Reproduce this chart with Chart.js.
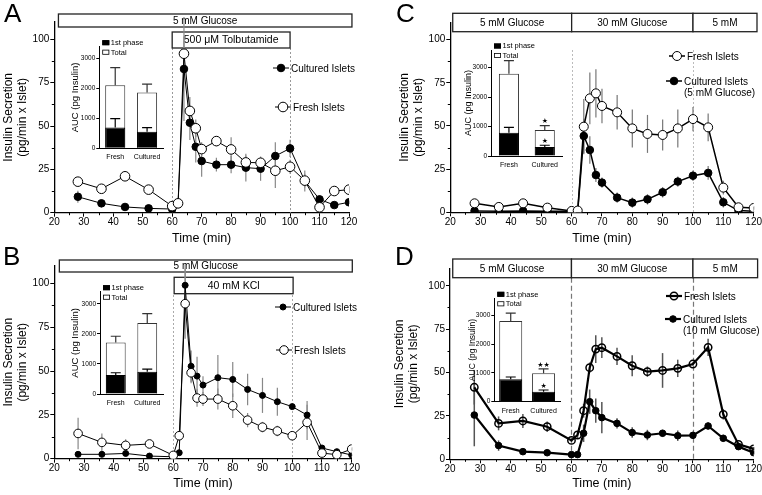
<!DOCTYPE html>
<html>
<head>
<meta charset="utf-8">
<script src="https://cdn.jsdelivr.net/npm/chart.js@4.4.0/dist/chart.umd.min.js"></script>
<style>
  html, body { margin: 0; padding: 0; background: #fff; }
  #wrap { position: relative; width: 762px; height: 495px; overflow: hidden;
          font-family: "Liberation Sans", Arial, sans-serif; }
  canvas { position: absolute; }
  .tag { position: absolute; font-size: 26px; line-height: 1; color: #000; }
</style>
</head>
<body>
<div id="wrap">
  <canvas id="mainA" style="left:0;top:0"></canvas>
  <canvas id="mainB" style="left:0;top:245px"></canvas>
  <canvas id="mainC" style="left:381px;top:0"></canvas>
  <canvas id="mainD" style="left:381px;top:245px"></canvas>
  <canvas id="insetA" style="left:60px;top:36px"></canvas>
  <canvas id="insetB" style="left:60px;top:281px"></canvas>
  <canvas id="insetC" style="left:452px;top:40px"></canvas>
  <canvas id="insetD" style="left:455px;top:288px"></canvas>
  <div class="tag" style="left:4px;top:0">A</div>
  <div class="tag" style="left:3px;top:243px">B</div>
  <div class="tag" style="left:396px;top:0">C</div>
  <div class="tag" style="left:395px;top:243px">D</div>
</div>
<script>
// 共通の時間軸（min）
const times = [28, 36, 44, 52, 60, 62, 64, 66, 68, 70, 75, 80, 85, 90, 95, 100, 105, 110, 115, 120];
const seriesLabels = ["Fresh Islets", "Cultured Islets"];

// A: トルブタミド刺激
const aFresh       = [17.9, 13.8, 21, 13.3, 3.8, 5.4, 91.7, 58.7, 48.7, 36.7, 41.3, 36.5, 29, 28.8, 24.2, 26.5, 18.5, 3.1, 12.5, 13.3];
const aFreshErr    = [2, 2, 2, 2, 1, 1, 10, 8, 5, 4, 3, 7, 4, 3, 10, 4, 4, 2, 2, 2];
const aCultured    = [9.2, 5.4, 3.3, 2.5, 2.1, 5, 82.9, 51.9, 38, 29.8, 27.7, 27.7, 26, 25.4, 32.7, 37.1, 18.3, 7.7, 4.4, 6];
const aCulturedErr = [3.5, 1, 1, 0.5, 0.5, 1, 30, 10, 9, 9, 4, 5, 8, 7, 8, 5, 6, 2, 1, 1];

// B: KCl 刺激
const bFresh       = [14.4, 9.3, 7.6, 8.4, 1.9, 13.1, 88.4, 49, 34.6, 34, 34, 30.2, 22, 18, 15.8, 13.1, 20.7, 3.2, 2.3, 5.5];
const bFreshErr    = [9, 5, 3.5, 2, 1, 2, 20, 6, 5, 4, 6, 7, 4, 3, 3, 1, 10, 1, 1, 1];
const bCultured    = [2.5, 2.5, 3, 1.5, 1.1, 3.4, 98.9, 52.7, 47.1, 42, 46.2, 45.2, 39.5, 36.1, 32.5, 29.7, 24.9, 6.1, 4, 2.1];
const bCulturedErr = [0.5, 0.5, 0.5, 0.5, 0.3, 0.5, 12, 9, 11, 5, 13, 10, 9, 10, 8, 1, 8, 1.5, 1, 0.5];

// C: 30 mM グルコース（培養 5 mM）
const cFresh       = [5.2, 3.1, 5.2, 2.7, 0.8, 1, 49.6, 66, 68.9, 61.6, 57.9, 48.6, 45.4, 44.8, 48.6, 54, 49.2, 14.3, 2.9, 2.5];
const cFreshErr    = [0.5, 0.5, 0.5, 0.5, 0.2, 0.2, 16, 15, 14, 10, 10, 11, 11, 9, 11, 7, 8, 4, 1, 1];
const cCultured    = [0.8, 0.6, 0.8, 0.6, 0.6, 0.6, 44.2, 36.1, 21.6, 17.2, 8.5, 5.6, 7.5, 11.6, 17.8, 21.2, 22.8, 5.8, 1, 0.6];
const cCulturedErr = [0.2, 0.2, 0.2, 0.2, 0.2, 0.2, 10, 8, 4, 3, 3, 3, 3, 3, 3, 3, 4, 3, 0.5, 0.2];

// D: 30 mM グルコース（培養 10 mM）
const dFresh       = [41.5, 20.7, 22.1, 18.8, 10.9, 14, 28, 52.8, 63.5, 64.3, 59.3, 53.9, 50.5, 51.2, 52.4, 54.9, 64.5, 25.9, 8.6, 6];
const dFreshErr    = [10, 4, 4, 3, 1, 2, 4, 3, 8, 6, 5, 6, 3, 10, 5, 1, 5, 3, 1, 1];
const dCultured    = [25.5, 7.9, 4.4, 3.8, 2.7, 2.7, 15, 33.2, 28, 24, 20.7, 15.4, 14, 15, 13.6, 13.8, 19.2, 12.1, 7.3, 3.8];
const dCulturedErr = [18, 3, 1, 1, 0.5, 0.5, 5, 7, 7, 9, 3, 3, 3, 2, 3, 1, 2, 2, 1, 1];

// 挿入図: AUC（pg Insulin）
const aucGroups = ["Fresh", "Cultured"];
const aucTicks = [0, 1000, 2000, 3000];
const aTotal = [2110, 1865], aTotalErr = [590, 280], aFirst = [700, 556], aFirstErr = [290, 133];
const bTotal = [1710, 2360], bTotalErr = [210, 310], bFirst = [630, 740], bFirstErr = [76, 88];
const cTotal = [2790, 880],  cTotalErr = [450, 155], cFirst = [790, 305], cFirstErr = [185, 60];
const dTotal = [2814, 988],  dTotalErr = [267, 152], dFirst = [779, 349], dFirstErr = [81, 58];
const cTotalStars = ["", "★"],  cFirstStars = ["", "★"];
const dTotalStars = ["", "★★"], dFirstStars = ["", "★"];

const FONT = '"Liberation Sans", Arial, sans-serif';
Chart.defaults.font.family = FONT;
Chart.defaults.color = "#000";
Chart.defaults.animation = false;

// 本図の飾り（条件ボックス・点線・誤差線・凡例・副目盛）
function decoPlugin(p) {
  return {
    id: "deco",
    beforeDatasetsDraw(chart) {
      const { ctx, chartArea, scales: { x, y } } = chart;
      ctx.save();
      ctx.strokeStyle = p.dash.color;
      ctx.lineWidth = p.dash.width;
      ctx.setLineDash(p.dash.pattern);
      p.dash.at.forEach(t => {
        const px = Math.round(x.getPixelForValue(t)) + 0.5;
        ctx.beginPath();
        ctx.moveTo(px, p.dash.from);
        ctx.lineTo(px, chartArea.bottom);
        ctx.stroke();
      });
      ctx.setLineDash([]);

      p.boxes.forEach(b => {
        const x0 = x.getPixelForValue(b.from), x1 = x.getPixelForValue(b.to);
        ctx.fillStyle = "#fff";
        ctx.fillRect(x0, b.top, x1 - x0, b.bottom - b.top);
        ctx.strokeStyle = "#222";
        ctx.lineWidth = 1.3;
        ctx.strokeRect(x0, b.top, x1 - x0, b.bottom - b.top);
        ctx.fillStyle = "#000";
        ctx.font = `${b.size}px ${FONT}`;
        ctx.textAlign = "center";
        ctx.textBaseline = "middle";
        ctx.fillText(b.text, (x0 + x1) / 2, (b.top + b.bottom) / 2 + 0.5);
      });

      // 誤差線（マーカーの下）
      ctx.strokeStyle = p.errColor;
      ctx.lineWidth = p.errWidth;
      chart.data.datasets.forEach((ds, i) => {
        const meta = chart.getDatasetMeta(i);
        ds.data.forEach((pt, j) => {
          const e = ds.err[j];
          const px = meta.data[j].x;
          ctx.beginPath();
          ctx.moveTo(px, y.getPixelForValue(pt.y + e));
          ctx.lineTo(px, y.getPixelForValue(Math.max(0, pt.y - e)));
          ctx.stroke();
        });
      });
      ctx.restore();
    },
    afterDraw(chart) {
      const { ctx, chartArea, scales: { x, y } } = chart;
      ctx.save();
      // 副目盛（y: 12.5 ごと, x: 5 ごと）
      ctx.strokeStyle = "#000";
      ctx.lineWidth = 1;
      for (let v = 12.5; v < 110; v += 25) {
        const py = Math.round(y.getPixelForValue(v)) + 0.5;
        ctx.beginPath();
        ctx.moveTo(chartArea.left - 2.5, py);
        ctx.lineTo(chartArea.left, py);
        ctx.stroke();
      }
      for (let t = 25; t < 120; t += 10) {
        const px = Math.round(x.getPixelForValue(t)) + 0.5;
        ctx.beginPath();
        ctx.moveTo(px, chartArea.bottom);
        ctx.lineTo(px, chartArea.bottom + 2.5);
        ctx.stroke();
      }
      // 凡例
      p.legend.forEach(item => {
        const ds = chart.data.datasets[item.ds];
        ctx.strokeStyle = "#000";
        ctx.lineWidth = ds.borderWidth;
        ctx.beginPath();
        ctx.moveTo(item.x - 8, item.y);
        ctx.lineTo(item.x + 8, item.y);
        ctx.stroke();
        ctx.beginPath();
        ctx.arc(item.x, item.y, ds.pointRadius, 0, Math.PI * 2);
        if (ds.pointBackgroundColor !== "transparent") {
          ctx.fillStyle = ds.pointBackgroundColor;
          ctx.fill();
        }
        ctx.lineWidth = ds.pointBorderWidth;
        ctx.stroke();
        ctx.fillStyle = "#000";
        ctx.font = `10px ${FONT}`;
        ctx.textAlign = "left";
        ctx.textBaseline = "middle";
        [ds.label].concat(item.extra || []).forEach((line, k) => {
          ctx.fillText(line, item.x + 10, item.y + 1 + k * 11);
        });
      });
      ctx.restore();
    },
  };
}

function mainChart(id, p) {
  const cv = document.getElementById(id);
  cv.width = 381; cv.height = 246;
  const mk = (label, values, err, style) => ({
    label,
    data: times.map((t, i) => ({ x: t, y: values[i] })),
    err,
    borderColor: "#000",
    borderWidth: p.lineWidth,
    tension: 0,
    pointStyle: "circle",
    pointBorderColor: "#000",
    ...style,
  });
  const datasets = [
    mk(seriesLabels[0], p.fresh, p.freshErr,
       { pointRadius: p.freshR, pointBackgroundColor: p.freshFill, pointBorderWidth: p.freshBW, order: 0 }),
    mk(seriesLabels[1], p.cultured, p.culturedErr,
       { pointRadius: p.cultR, pointBackgroundColor: "#000", pointBorderWidth: 1, order: 1 }),
  ];
  const axisFont = { size: 10 };
  return new Chart(cv, {
    type: "line",
    data: { datasets },
    options: {
      responsive: false,
      animation: false,
      layout: { padding: { left: 0, top: p.area.t, right: 381 - p.area.r, bottom: 0 } },
      plugins: { legend: { display: false }, tooltip: { enabled: false } },
      scales: {
        x: {
          type: "linear", min: 20, max: 120,
          ticks: { stepSize: 10, font: axisFont, padding: 0, maxRotation: 0 },
          grid: { drawOnChartArea: false, tickLength: 4, color: "#000" },
          border: { color: "#000", width: 1.3 },
          title: { display: true, text: "Time (min)", font: { size: 12.5 }, padding: { top: 0, bottom: 0 } },
          afterFit: s => { s.height = 246 - p.area.b; },
        },
        y: {
          min: 0, max: 110,
          ticks: { stepSize: 25, includeBounds: false, font: axisFont, padding: 1 },
          grid: { drawOnChartArea: false, tickLength: 4, color: "#000" },
          border: { color: "#000", width: 1.3 },
          title: { display: true, text: ["Insulin Secretion", "(pg/min x Islet)"],
                   font: { size: 12, lineHeight: 1.15 }, padding: { top: p.yTitlePad, bottom: 0 } },
          afterFit: s => { s.width = p.area.l; },
        },
      },
    },
    plugins: [decoPlugin(p)],
  });
}

// 挿入図の飾り（誤差線・星印・凡例）
const insetDeco = {
  id: "insetDeco",
  afterDatasetsDraw(chart) {
    const { ctx, scales: { y } } = chart;
    ctx.save();
    chart.data.datasets.forEach((ds, i) => {
      const meta = chart.getDatasetMeta(i);
      ds.data.forEach((v, j) => {
        const bar = meta.data[j];
        const top = y.getPixelForValue(v + ds.err[j]);
        ctx.strokeStyle = i === 0 ? "#000" : "#333";
        ctx.lineWidth = 1.2;
        ctx.beginPath();
        ctx.moveTo(bar.x, bar.y);
        ctx.lineTo(bar.x, top);
        ctx.moveTo(bar.x - 5, top);
        ctx.lineTo(bar.x + 5, top);
        ctx.stroke();
        const star = ds.stars ? ds.stars[j] : "";
        if (star) {
          ctx.fillStyle = "#000";
          ctx.font = `7px "DejaVu Sans", sans-serif`;
          ctx.textAlign = "center";
          ctx.textBaseline = "bottom";
          ctx.fillText(star, bar.x, top - 0.5);
        }
      });
    });
    ctx.restore();
  },
  afterDraw(chart) {
    const { ctx, chartArea } = chart;
    ctx.save();
    ctx.font = `7.5px ${FONT}`;
    ctx.textAlign = "left";
    ctx.textBaseline = "middle";
    chart.data.datasets.forEach((ds, i) => {
      const sy = chartArea.top - 6.5 + i * 9.5;
      const sx = chartArea.left + 3;
      ctx.fillStyle = ds.backgroundColor;
      ctx.fillRect(sx, sy, 7, 5);
      ctx.strokeStyle = "#000";
      ctx.lineWidth = 0.8;
      ctx.strokeRect(sx + 0.4, sy + 0.4, 6.2, 4.2);
      ctx.fillStyle = "#000";
      ctx.fillText(ds.label, sx + 8.5, sy + 2.8);
    });
    ctx.restore();
  },
};

function insetChart(id, p) {
  const cv = document.getElementById(id);
  cv.width = p.w; cv.height = p.h;
  const common = { grouped: false, barPercentage: p.barPct, categoryPercentage: 1, borderWidth: 1 };
  return new Chart(cv, {
    type: "bar",
    data: {
      labels: aucGroups,
      datasets: [
        { label: "1st phase", data: p.first, err: p.firstErr, stars: p.firstStars,
          backgroundColor: "#000", borderColor: "#000", order: 0, ...common },
        { label: "Total", data: p.total, err: p.totalErr, stars: p.totalStars,
          backgroundColor: "#fff", borderColor: "#333", order: 1, ...common },
      ],
    },
    options: {
      responsive: false,
      animation: false,
      layout: { padding: { left: 0, top: p.t, right: p.w - p.r, bottom: 0 } },
      plugins: { legend: { display: false }, tooltip: { enabled: false } },
      scales: {
        x: {
          grid: { display: false, drawTicks: false },
          border: { color: "#000", width: 1 },
          ticks: { font: { size: 7 }, padding: 5, maxRotation: 0, minRotation: 0, autoSkip: false },
          afterFit: s => { s.height = p.h - p.b; },
        },
        y: {
          min: 0, max: p.max,
          afterBuildTicks: s => { s.ticks = aucTicks.map(v => ({ value: v })); },
          ticks: { font: { size: 6.5 }, padding: 1, callback: v => String(v) },
          grid: { drawOnChartArea: false, tickLength: 3, color: "#000" },
          border: { color: "#000", width: 1 },
          title: { display: true, text: "AUC (pg Insulin)", font: { size: p.titleSize, lineHeight: 1.15 },
                   padding: { top: p.titlePad, bottom: 0 } },
          afterFit: s => { s.width = p.l; },
        },
      },
    },
    plugins: [insetDeco],
  });
}

mainChart("mainA", {
  fresh: aFresh, freshErr: aFreshErr, cultured: aCultured, culturedErr: aCulturedErr,
  area: { l: 54.3, r: 349, t: 22, b: 212.7 }, yTitlePad: 2,
  lineWidth: 1, freshR: 4.8, freshFill: "#fff", freshBW: 1, cultR: 3.8,
  errColor: "#888", errWidth: 1.2,
  dash: { at: [60, 100], from: 48, color: "#999", width: 1, pattern: [2, 2] },
  boxes: [
    { from: 21.4, to: 121, top: 14, bottom: 27, text: "5 mM Glucose", size: 10 },
    { from: 60, to: 100, top: 32, bottom: 48, text: "500 μM Tolbutamide", size: 10.5 },
  ],
  legend: [{ ds: 1, x: 281, y: 68 }, { ds: 0, x: 283, y: 107 }],
});

mainChart("mainB", {
  fresh: bFresh, freshErr: bFreshErr, cultured: bCultured, culturedErr: bCulturedErr,
  area: { l: 54.3, r: 351.7, t: 20.8, b: 213.7 }, yTitlePad: 2,
  lineWidth: 1, freshR: 4.3, freshFill: "#fff", freshBW: 1, cultR: 3,
  errColor: "#888", errWidth: 1.2,
  dash: { at: [60, 100], from: 50, color: "#aaa", width: 1, pattern: [2, 2] },
  boxes: [
    { from: 21.7, to: 120.2, top: 15, bottom: 27, text: "5 mM Glucose", size: 10 },
    { from: 60.3, to: 100.3, top: 32.3, bottom: 48.7, text: "40 mM KCl", size: 10.5 },
  ],
  legend: [{ ds: 1, x: 283, y: 62 }, { ds: 0, x: 284, y: 105 }],
});

mainChart("mainC", {
  fresh: cFresh, freshErr: cFreshErr, cultured: cCultured, culturedErr: cCulturedErr,
  area: { l: 69.3, r: 373.3, t: 22.4, b: 212.3 }, yTitlePad: 17,
  lineWidth: 1.5, freshR: 4.5, freshFill: "#fff", freshBW: 1, cultR: 3.8,
  errColor: "#777", errWidth: 1.2,
  dash: { at: [60, 100], from: 50, color: "#bbb", width: 1, pattern: [2, 2] },
  boxes: [
    { from: 20.8, to: 60, top: 13.3, bottom: 31.7, text: "5 mM Glucose", size: 10 },
    { from: 60, to: 100, top: 13.3, bottom: 31.7, text: "30 mM Glucose", size: 10 },
    { from: 100, to: 121.1, top: 13.3, bottom: 31.7, text: "5 mM", size: 10 },
  ],
  legend: [{ ds: 0, x: 296, y: 56 }, { ds: 1, x: 293, y: 81, extra: ["(5 mM Glucose)"] }],
});

mainChart("mainD", {
  fresh: dFresh, freshErr: dFreshErr, cultured: dCultured, culturedErr: dCulturedErr,
  area: { l: 69, r: 372.7, t: 23.4, b: 214.3 }, yTitlePad: 12,
  lineWidth: 2.2, freshR: 3.7, freshFill: "transparent", freshBW: 1.5, cultR: 3.3,
  errColor: "#555", errWidth: 1.5,
  dash: { at: [60, 100], from: 32.7, color: "#777", width: 1.2, pattern: [5, 3] },
  boxes: [
    { from: 20.9, to: 60, top: 14, bottom: 32.7, text: "5 mM Glucose", size: 10 },
    { from: 60, to: 100, top: 14, bottom: 32.7, text: "30 mM Glucose", size: 10 },
    { from: 100, to: 121.3, top: 14, bottom: 32.7, text: "5 mM", size: 10 },
  ],
  legend: [{ ds: 0, x: 293, y: 51 }, { ds: 1, x: 292, y: 74, extra: ["(10 mM Glucose)"] }],
});

insetChart("insetA", { w: 110, h: 130, l: 39.3, r: 103, t: 10.7, b: 112.3, max: 3400, barPct: 0.63,
  titleSize: 9.5, titlePad: 9.5, total: aTotal, totalErr: aTotalErr, first: aFirst, firstErr: aFirstErr });
insetChart("insetB", { w: 110, h: 130, l: 40, r: 103, t: 10.7, b: 113, max: 3400, barPct: 0.63,
  titleSize: 9.5, titlePad: 9.5, total: bTotal, totalErr: bTotalErr, first: bFirst, firstErr: bFirstErr });
insetChart("insetC", { w: 120, h: 130, l: 39, r: 110.7, t: 10, b: 116, max: 3600, barPct: 0.56,
  titleSize: 9, titlePad: 11, total: cTotal, totalErr: cTotalErr, first: cFirst, firstErr: cFirstErr,
  totalStars: cTotalStars, firstStars: cFirstStars });
insetChart("insetD", { w: 115, h: 130, l: 39.3, r: 105, t: 10.3, b: 113.7, max: 3600, barPct: 0.7,
  titleSize: 8.5, titlePad: 12.5, total: dTotal, totalErr: dTotalErr, first: dFirst, firstErr: dFirstErr,
  totalStars: dTotalStars, firstStars: dFirstStars });
</script>
</body>
</html>
